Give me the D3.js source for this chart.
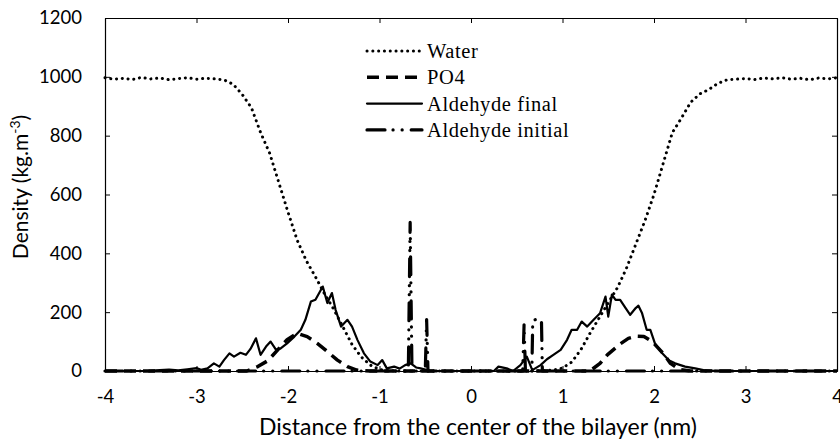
<!DOCTYPE html>
<html><head><meta charset="utf-8">
<script src="https://cdn.jsdelivr.net/npm/d3@7"></script>
<style>body{margin:0;background:#fff}svg{display:block}</style>
</head><body>
<svg id="c" width="840" height="443"></svg>
<script>
// ---- data ----
const xTicks = [-4,-3,-2,-1,0,1,2,3,4];
const yTicks = [0,200,400,600,800,1000,1200];
const seriesNames = ["Water","PO4","Aldehyde final","Aldehyde initial"];

const waterX = [-4.0,-3.9,-3.8,-3.7,-3.6,-3.5,-3.4,-3.3,-3.2,-3.1,-3.0,-2.9,-2.8,-2.7,-2.6,-2.5,-2.4,-2.3,-2.2,-2.1,-2.0,-1.9,-1.8,-1.7,-1.6,-1.5,-1.4,-1.3,-1.2,-1.1,-1.0,-0.9,-0.8,-0.6,-0.4,-0.2,0.0,0.2,0.4,0.6,0.8,0.9,1.0,1.1,1.2,1.3,1.4,1.5,1.6,1.7,1.8,1.9,2.0,2.1,2.2,2.3,2.4,2.5,2.6,2.7,2.8,2.9,3.0,3.1,3.2,3.3,3.4,3.5,3.6,3.7,3.8,3.9,4.0];
const waterY = [997,992,995,991,998,993,996,990,994,997,992,995,993,990,975,940,895,811,740,640,540,445,375,320,262,210,150,90,48,20,5,1,0,0,0,0,0,0,0,0,1,3,10,30,72,128,180,232,283,350,430,510,600,705,810,860,913,942,957,978,990,992,994,991,996,993,997,992,995,990,996,993,997];

const po4X = [-4,-3,-2.45,-2.33,-2.22,-2.08,-2.01,-1.90,-1.79,-1.68,-1.57,-1.46,-1.35,-1.25,-1.1,0,1.3,1.41,1.49,1.63,1.72,1.80,1.89,1.98,2.10,2.18,2.28,2.4,3,4];
const po4Y = [0,0,0,15,35,83,106,128,117,94,66,37,15,3,0,0,0,26,55,92,111,118,117,100,60,26,5,0,0,0];

const aldFinalX = [-4.0,-3.5,-3.4,-3.3,-3.2,-3.1,-3.0,-2.95,-2.88,-2.81,-2.75,-2.70,-2.64,-2.59,-2.52,-2.46,-2.41,-2.35,-2.30,-2.24,-2.19,-2.13,-2.08,-2.01,-1.93,-1.86,-1.81,-1.75,-1.70,-1.62,-1.57,-1.52,-1.48,-1.42,-1.35,-1.30,-1.24,-1.17,-1.10,-1.02,-0.97,-0.92,-0.84,-0.78,-0.72,-0.66,-0.60,-0.55,-0.50,-0.45,0.25,0.30,0.39,0.46,0.54,0.61,0.67,0.76,0.83,0.90,0.98,1.05,1.10,1.16,1.21,1.27,1.34,1.41,1.47,1.50,1.54,1.58,1.63,1.69,1.74,1.80,1.83,1.87,1.92,1.96,2.01,2.09,2.16,2.23,2.34,2.45,2.54,2.7,4.0];
const aldFinalY = [0,0,3,5,2,6,10,4,9,26,15,37,60,49,62,55,75,111,55,83,100,72,77,94,117,140,174,236,242,287,231,265,208,151,174,151,105,60,32,20,37,9,15,8,20,26,12,9,5,0,0,15,9,0,20,49,3,20,40,55,72,106,140,140,168,151,174,196,253,185,260,242,242,214,191,214,222,196,140,140,94,60,37,26,15,9,3,0,0];

const aldInitX = [-4,-2,-0.685,-0.665,-0.645,-0.50,-0.485,-0.47,0,0.565,0.58,0.595,0.665,0.675,0.72,0.77,0.78,2,4];
const aldInitY = [0,0,0,505,0,0,175,0,0,0,157,0,0,172,176,174,0,0,0];

// ---- layout ----
const svg = d3.select("#c");
const L = 105, R = 837, T = 18, B = 371;
const x = d3.scaleLinear().domain([-4,4]).range([L,R]);
const y = d3.scaleLinear().domain([0,1200]).range([B,T]);

const styles = {
  "Water": {w:3, dash:"0.1 5.7", cap:"round"},
  "PO4": {w:3.5, dash:"12 7", cap:"butt"},
  "Aldehyde final": {w:2.2, dash:null, cap:"round"},
  "Aldehyde initial": {w:3.2, dash:"18 8 0.1 9 0.1 9", cap:"round"}
};
const data = {
  "Water": d3.zip(waterX, waterY),
  "PO4": d3.zip(po4X, po4Y),
  "Aldehyde final": d3.zip(aldFinalX, aldFinalY),
  "Aldehyde initial": d3.zip(aldInitX, aldInitY)
};

const tickFont = "Lato, 'Open Sans', sans-serif";

// axes (frame with inward ticks)
const gx = svg.append("g").attr("transform",`translate(0,${B})`)
  .call(d3.axisBottom(x).tickValues(xTicks).tickSizeInner(-5).tickSizeOuter(0).tickPadding(19).tickFormat(d3.format("d")));
const gy = svg.append("g").attr("transform",`translate(${L},0)`)
  .call(d3.axisLeft(y).tickValues(yTicks).tickSizeInner(-5).tickSizeOuter(0).tickPadding(23).tickFormat(d3.format("d")));
const gt = svg.append("g").attr("transform",`translate(0,${T})`)
  .call(d3.axisTop(x).tickValues(xTicks).tickSizeInner(-5).tickSizeOuter(0).tickFormat(""));
const gr = svg.append("g").attr("transform",`translate(${R},0)`)
  .call(d3.axisRight(y).tickValues(yTicks).tickSizeInner(-5).tickSizeOuter(0).tickFormat(""));
[gx,gy,gt,gr].forEach(g=>{
  g.selectAll("path.domain").attr("stroke","#000").attr("stroke-width",1.2);
  g.selectAll(".tick line").attr("stroke","#000").attr("stroke-width",1);
  g.selectAll(".tick text").attr("font-family",tickFont).attr("font-size",18.5).attr("fill","#000");
});
gx.selectAll(".tick text").text(d=>d<0?"-"+Math.abs(d):d);

// series
const line = d3.line().x(d=>x(d[0])).y(d=>y(d[1]));
const order = ["Water","PO4","Aldehyde initial","Aldehyde final"];
order.forEach(n=>{
  const s = styles[n];
  svg.append("path").datum(data[n]).attr("d",line)
    .attr("fill","none").attr("stroke","#000").attr("stroke-width",s.w)
    .attr("stroke-linecap",s.cap).attr("stroke-linejoin","round")
    .attr("stroke-dasharray",s.dash);
});

// legend
const lg = svg.append("g");
seriesNames.forEach((n,i)=>{
  const yy = 51 + i*26.3;
  const s = styles[n];
  lg.append("line").attr("x1",367).attr("x2",422).attr("y1",yy).attr("y2",yy)
    .attr("stroke","#000").attr("stroke-width",s.w).attr("stroke-linecap",s.cap)
    .attr("stroke-dasharray",s.dash);
  lg.append("text").attr("x",427).attr("y",yy).attr("dy","0.35em")
    .attr("font-family","'Liberation Serif', 'Times New Roman', serif").attr("font-size",20.5)
    .attr("letter-spacing",0.6).text(n);
});

// axis titles
svg.append("text").attr("x",478).attr("y",435).attr("text-anchor","middle")
  .attr("font-family",tickFont).attr("font-size",23).text("Distance from the center of the bilayer (nm)");
const yt = svg.append("text").attr("transform","translate(28,187) rotate(-90)").attr("text-anchor","middle")
  .attr("font-family",tickFont).attr("font-size",21);
yt.append("tspan").text("Density (kg.m");
yt.append("tspan").attr("baseline-shift","super").attr("font-size",14).text("-3");
yt.append("tspan").text(")");
</script>
</body></html>
